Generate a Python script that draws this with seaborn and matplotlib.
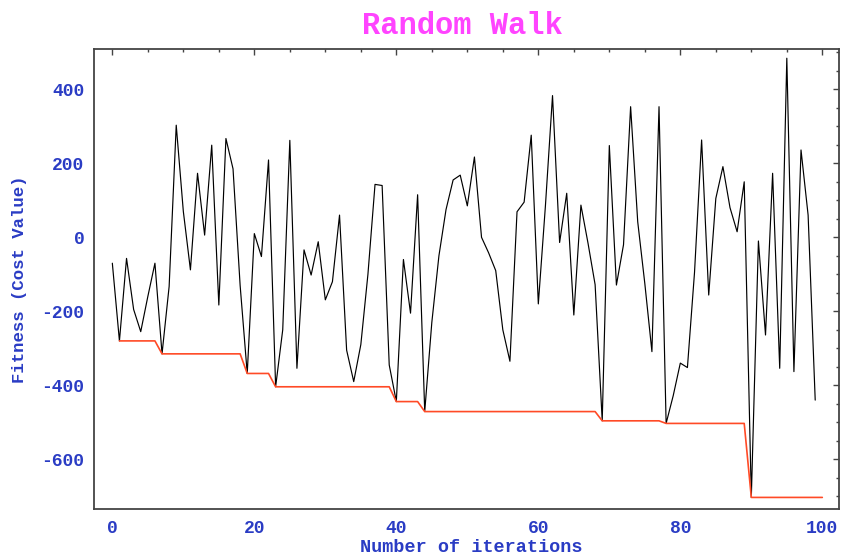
import matplotlib
matplotlib.use("Agg")
import matplotlib.pyplot as plt
from matplotlib.ticker import MultipleLocator, FixedLocator, FixedFormatter
import pandas as pd
import seaborn as sns

# ---- data ----
iterations = list(range(100))
fitness = [
    -70, -280, -57, -195, -255, -160, -70, -315, -133, 303,
    70, -88, 173, 6, 249, -183, 267, 185, -130, -368,
    10, -52, 209, -404, -250, 262, -354, -34, -102, -12,
    -169, -120, 60, -305, -390, -290, -100, 143, 140, -345,
    -444, -60, -205, 115, -471, -230, -50, 75, 155, 168,
    85, 217, 0, -42, -90, -250, -335, 69, 95, 276,
    -180, 85, 383, -14, 119, -210, 87, -16, -128, -496,
    248, -129, -20, 353, 42, -125, -309, 353, -503, -428,
    -340, -352, -95, 263, -156, 105, 191, 80, 15, 150,
    -703, -10, -264, 173, -354, 484, -363, 236, 60, -440,
]
best_iter = [1, 6, 7, 18, 19, 22, 23, 39, 40, 43, 44, 68, 69, 77, 78, 89, 90, 100]
best_fitness = [-280, -280, -315, -315, -368, -368, -404, -404, -444, -444,
                -471, -471, -496, -496, -503, -503, -703, -703]

xtick_values = [0, 20, 40, 60, 80, 100]
xtick_labels = ["0", "20", "40", "60", "80", "100"]
ytick_values = [-600, -400, -200, 0, 200, 400]
ytick_labels = ["-600", "-400", "-200", "0", "200", "400"]
title_text = "Random Walk"
xlabel_text = "Number of iterations"
ylabel_text = "Fitness (Cost Value)"

# ---- style ----
sns.set_style("white")
plt.rcParams["font.family"] = ["Liberation Mono", "DejaVu Sans Mono"]
plt.rcParams["axes.unicode_minus"] = False

BLUE = "#2a3cc4"
MAGENTA = "#ff44ff"
RED = "#ff4a26"
FRAME = "#444444"

W, H = 841, 554
fig = plt.figure(figsize=(W / 100, H / 100), dpi=100)
left, right, top, bottom = 94.3, 838.5, 49.3, 509.0
ax = fig.add_axes([left / W, 1 - bottom / H, (right - left) / W, (bottom - top) / H])
ax.set_facecolor("white")

df = pd.DataFrame({"iteration": iterations, "fitness": fitness})
best = pd.DataFrame({"iteration": best_iter, "fitness": best_fitness})

sns.lineplot(data=df, x="iteration", y="fitness", ax=ax, color="black",
             linewidth=0.85, estimator=None, sort=False, zorder=2)
sns.lineplot(data=best, x="iteration", y="fitness", ax=ax, color=RED,
             linewidth=1.2, estimator=None, sort=False, zorder=3)

ax.set_xlim(-2.54, 102.28)
ax.set_ylim(-734.3, 508.1)

ax.xaxis.set_major_locator(FixedLocator(xtick_values))
ax.xaxis.set_major_formatter(FixedFormatter(xtick_labels))
ax.yaxis.set_major_locator(FixedLocator(ytick_values))
ax.yaxis.set_major_formatter(FixedFormatter(ytick_labels))
ax.xaxis.set_minor_locator(MultipleLocator(5))
ax.yaxis.set_minor_locator(MultipleLocator(50))

ax.tick_params(which="both", direction="in", top=True, right=True,
               color=FRAME, width=1.0, labelcolor=BLUE)
ax.tick_params(which="major", length=4)
ax.tick_params(which="minor", length=2.5)
ax.tick_params(axis="x", pad=8)
ax.tick_params(axis="y", pad=7)
for lab in ax.get_xticklabels() + ax.get_yticklabels():
    lab.set_fontsize(13)
    lab.set_fontweight("bold")

for sp in ax.spines.values():
    sp.set_visible(True)
    sp.set_color(FRAME)
    sp.set_linewidth(1.3)

ax.set_xlabel(xlabel_text, color=BLUE, fontsize=13.3, fontweight="bold", va="center")
ax.xaxis.set_label_coords((471 - left) / (right - left), -(547 - bottom) / (bottom - top))
ax.set_ylabel(ylabel_text, color=BLUE, fontsize=12.5, fontweight="bold", va="center")
ax.yaxis.set_label_coords((20 - left) / (right - left), 0.5)

fig.text(462 / W, 1 - 26.5 / H, title_text, color=MAGENTA, fontsize=22,
         fontweight="bold", ha="center", va="center")

fig.savefig("out.png", dpi=100, facecolor="white")
